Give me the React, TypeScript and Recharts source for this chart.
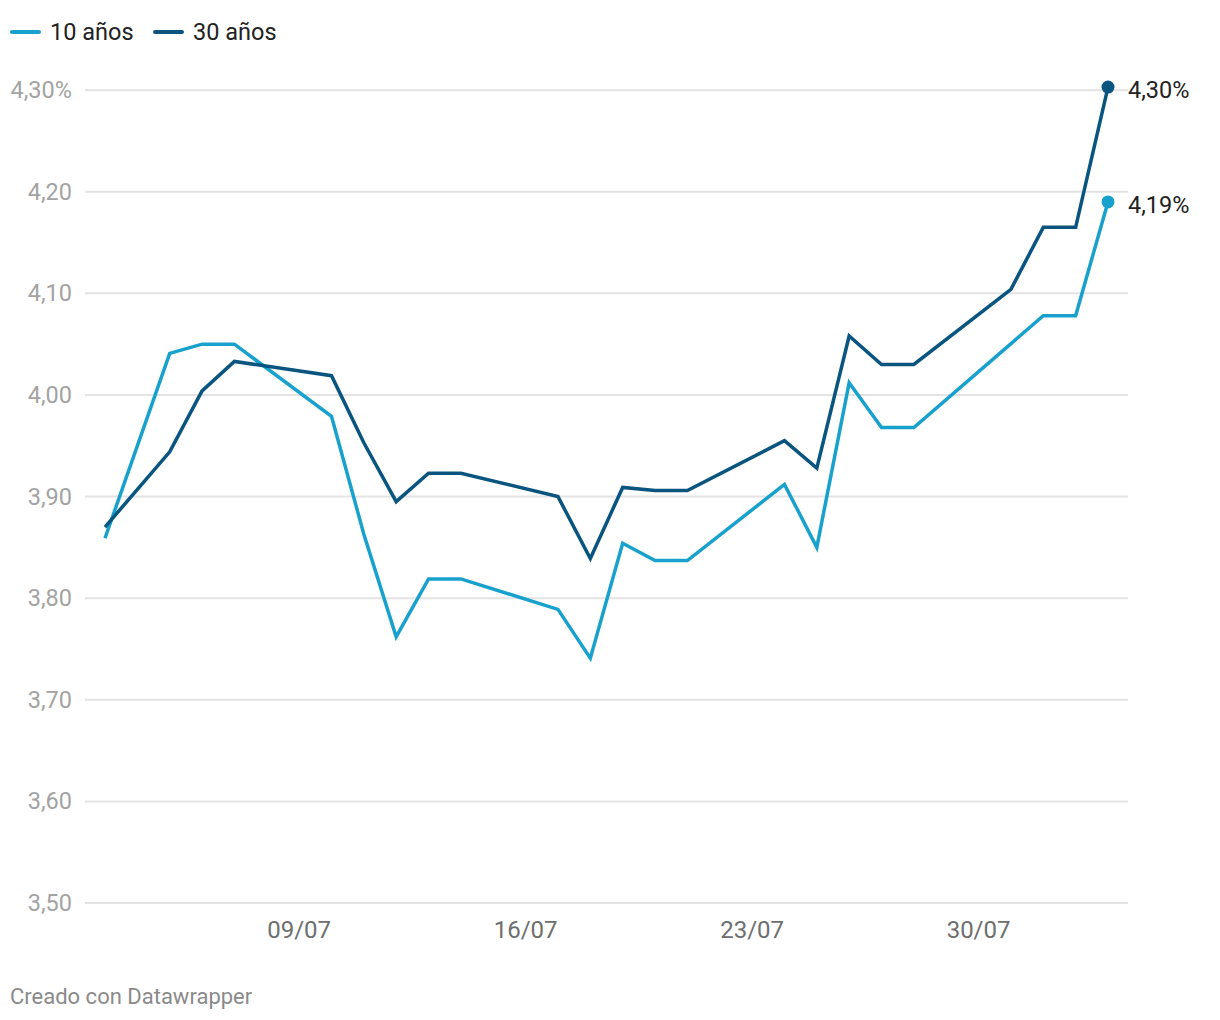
import React from 'react';
import { LineChart, Line, XAxis, YAxis, CartesianGrid } from 'recharts';

// days from 03/07 to 03/08 (null = no market data)
const dates = [
  '03/07', '04/07', '05/07', '06/07', '07/07', '08/07', '09/07', '10/07',
  '11/07', '12/07', '13/07', '14/07', '15/07', '16/07', '17/07', '18/07',
  '19/07', '20/07', '21/07', '22/07', '23/07', '24/07', '25/07', '26/07',
  '27/07', '28/07', '29/07', '30/07', '31/07', '01/08', '02/08', '03/08',
];

const y10 = [
  3.859, null, 4.041, 4.05, 4.05, null, null, 3.979,
  3.863, 3.762, 3.819, 3.819, null, null, 3.789, 3.741,
  3.854, 3.837, 3.837, null, null, 3.912, 3.85, 4.012,
  3.968, 3.968, null, null, null, 4.078, 4.078, 4.19,
];

const y30 = [
  3.87, null, 3.944, 4.004, 4.033, null, null, 4.019,
  3.953, 3.895, 3.923, 3.923, null, null, 3.9, 3.839,
  3.909, 3.906, 3.906, null, null, 3.955, 3.928, 4.058,
  4.03, 4.03, null, null, 4.104, 4.165, 4.165, 4.303,
];

const xTicks = ['09/07', '16/07', '23/07', '30/07'];
const yTicks = [3.5, 3.6, 3.7, 3.8, 3.9, 4.0, 4.1, 4.2, 4.3];
const endLabels = { y10: '4,19%', y30: '4,30%' };

const C10 = '#18a1cd';
const C30 = '#09557f';
const FONT = 'Roboto, sans-serif';

const data = dates.map((d, i) => ({ date: d, y10: y10[i], y30: y30[i] }));
const last = dates.length - 1;

const fmtY = (v: number) => v.toFixed(2).replace('.', ',') + (v === 4.3 ? '%' : '');

const YTick = ({ y, payload }: any) => (
  <text x={72} y={y} textAnchor="end" dominantBaseline="central" fill="#a3a3a3" fontSize={23.5} fontFamily={FONT}>
    {fmtY(payload.value)}
  </text>
);

const XTick = ({ x, payload }: any) => (
  <text x={x} y={938} textAnchor="middle" fill="#6e6e6e" fontSize={24} fontFamily={FONT}>
    {payload.value}
  </text>
);

// only draw grid lines that sit on a labelled tick (skip the plot's top edge)
const GridLine = (p: any) => {
  if (p.y1 < 85) return <g key={p.key} />;
  return <line key={p.key} x1={p.x1} x2={p.x2} y1={p.y1} y2={p.y2} stroke="#e3e3e3" strokeWidth={2} />;
};

const endDot = (color: string, key: string) => (p: any) => {
  if (p.index !== last) return <g key={`${key}-${p.index}`} />;
  return (
    <g key={`${key}-${p.index}`}>
      <circle cx={p.cx} cy={p.cy} r={6.5} fill={color} />
      <text x={p.cx + 20} y={p.cy + 3} dominantBaseline="central" fill="#222" fontSize={23.5} fontFamily={FONT}>
        {(endLabels as any)[key]}
      </text>
    </g>
  );
};

const LegendItem = ({ color, label, left }: { color: string; label: string; left: number }) => (
  <div style={{ position: 'absolute', left, top: 18, display: 'flex', alignItems: 'center' }}>
    <div style={{ width: 31, height: 4, borderRadius: 2, background: color, marginRight: 9 }} />
    <span style={{ fontSize: 23.5, color: '#222', lineHeight: '28px' }}>{label}</span>
  </div>
);

export default function App() {
  return (
    <div style={{ position: 'absolute', left: 0, top: 0, width: 1220, height: 1020, background: '#fff', fontFamily: FONT }}>
      <LegendItem color={C10} label="10 años" left={10} />
      <LegendItem color={C30} label="30 años" left={153} />
      <div style={{ position: 'absolute', left: 0, top: 0 }}>
        <LineChart width={1220} height={960} data={data} margin={{ top: 80, right: 92, bottom: 0, left: 0 }}>
          <CartesianGrid vertical={false} horizontal={GridLine} />
          <XAxis
            dataKey="date"
            ticks={xTicks}
            interval={0}
            axisLine={false}
            tickLine={false}
            height={57}
            padding={{ left: 20, right: 20 }}
            tick={<XTick />}
          />
          <YAxis
            domain={[3.5, 4.31]}
            ticks={yTicks}
            width={85}
            axisLine={false}
            tickLine={false}
            tick={<YTick />}
          />
          <Line
            dataKey="y10"
            stroke={C10}
            strokeWidth={3.5}
            strokeLinejoin="miter"
            connectNulls
            dot={endDot(C10, 'y10')}
            activeDot={false}
            isAnimationActive={false}
          />
          <Line
            dataKey="y30"
            stroke={C30}
            strokeWidth={3.5}
            strokeLinejoin="miter"
            connectNulls
            dot={endDot(C30, 'y30')}
            activeDot={false}
            isAnimationActive={false}
          />
        </LineChart>
      </div>
      <div style={{ position: 'absolute', left: 10, top: 984, fontSize: 22, color: '#8a8a8a' }}>Creado con Datawrapper</div>
    </div>
  );
}
